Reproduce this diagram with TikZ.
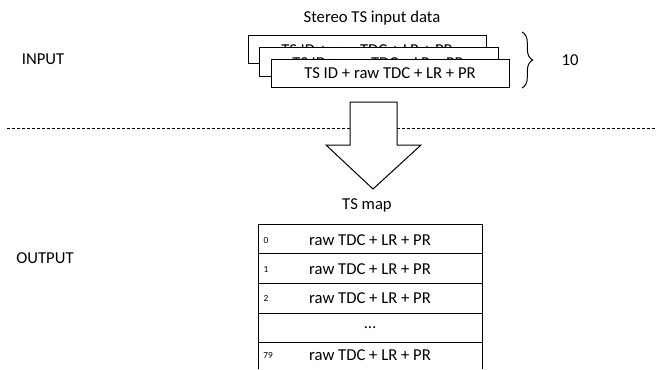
\documentclass[tikz,border=0pt]{standalone}
\usepackage{fontspec}
\setmainfont{Carlito}
\usetikzlibrary{decorations.pathreplacing}
\begin{document}
\begin{tikzpicture}[x=0.75pt,y=-0.75pt,line width=0.75pt,font=\fontsize{12.5}{15}\selectfont]
\tikzset{idx/.style={font=\fontsize{7}{8}\selectfont}}
\useasboundingbox (0,0) rectangle (657,369);

% Side labels
\node (input) at (43,59) {INPUT};
\node (output) at (45,258) {OUTPUT};

% Separator between input and output
\draw[dash pattern=on 2.25pt off 1.5pt] (7,128) -- (657,128);

% Stacked input records
\node (title) at (372,18) {Stereo TS input data};
\draw[fill=white] (248,35) rectangle (486,63);
\node[inner sep=0pt] (rec1) at (367,50.5) {TS ID + raw TDC + LR + PR};
\draw[fill=white] (259,47) rectangle (498,76);
\node[inner sep=0pt] (rec2) at (378,63) {TS ID + raw TDC + LR + PR};
\draw[fill=white] (271,59) rectangle (509,87);
\node[inner sep=0pt] (rec3) at (390,73.5) {TS ID + raw TDC + LR + PR};

% Brace with count
\coordinate (btop) at (522,32);
\coordinate (bbot) at (522,88);
\node (count) at (570,60) {10};
\draw[decorate,decoration={brace,amplitude=8pt}] (btop) -- (bbot);

% Big arrow down
\draw[fill=white] (350,102) -- (397,102) -- (397,145) -- (421,145) -- (373,189) -- (326,145) -- (350,145) -- cycle;

% TS map table
\node (map) at (367,205) {TS map};
\draw (258,224) rectangle (482,253.5);
\node[idx] (i0) at (266,240) {0};
\node (row0) at (370,240) {raw TDC + LR + PR};
\draw (258,253.5) rectangle (482,283);
\node[idx] (i1) at (266,269) {1};
\node (row1) at (370,269) {raw TDC + LR + PR};
\draw (258,283) rectangle (482,313);
\node[idx] (i2) at (266,298.5) {2};
\node (row2) at (370,298.5) {raw TDC + LR + PR};
\draw (258,313) rectangle (482,342);
\node (dots) at (370,328) {\dots};
\draw (258,369) -- (258,342) -- (482,342) -- (482,369);
\node[idx] (i79) at (268,355) {79};
\node (row79) at (370,355.5) {raw TDC + LR + PR};
\end{tikzpicture}
\end{document}
